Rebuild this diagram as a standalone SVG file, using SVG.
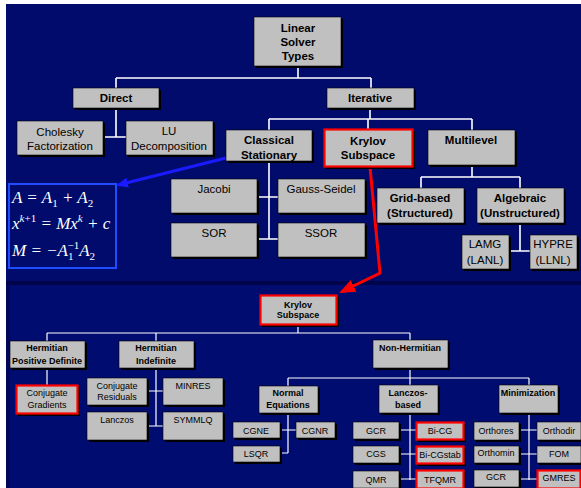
<svg xmlns="http://www.w3.org/2000/svg" width="581" height="488" viewBox="0 0 581 488">
<defs>
<style>
.sh{fill:#000}
.box{fill:#c0c0c0;stroke:#000;stroke-width:0.6}
.red{fill:#c0c0c0;stroke:#ff0000;stroke-width:2.2}
.t{font-family:"Liberation Sans",Arial,sans-serif;fill:#000;text-anchor:middle}
.b{font-weight:bold}
.L{font-size:11.5px}
.S{font-size:9px}
.con{stroke:#fff;stroke-width:1.6;fill:none}
.con2{stroke:#fff;stroke-width:1.2;fill:none}
.eq{font-family:"Liberation Serif","Times New Roman",serif;font-style:italic;font-size:17px;fill:#fff}
.n{font-style:normal;font-size:11px}
.i{font-style:italic;font-size:11px}
</style>
<marker id="ahRed" markerWidth="16" markerHeight="13" refX="14" refY="6.5" orient="auto" markerUnits="userSpaceOnUse">
<path d="M0,0 L16,6.5 L0,13 Z" fill="#ff0000"/>
</marker>
<marker id="ahBlue" markerWidth="12" markerHeight="10" refX="10" refY="5" orient="auto" markerUnits="userSpaceOnUse">
<path d="M0,0 L12,5 L0,10 Z" fill="#1a1aff"/>
</marker>
</defs>
<rect x="0" y="0" width="581" height="488" fill="#ffffff"/>
<rect x="6" y="4" width="575" height="277" fill="#000b6c"/>
<rect x="6" y="281" width="575" height="4" fill="#00044a"/>
<rect x="6" y="285" width="575" height="203" fill="#000c70"/>
<rect x="6" y="285" width="4" height="203" fill="#00075a"/>

<g id="connectors">
<path class="con" d="M298,66 V78 M116,78 H371 M116,78 V88 M371,78 V88"/>
<path class="con" d="M116,108 V137 M105,137 H126"/>
<path class="con" d="M370,108 V119 M269,119 H472 M269,119 V130 M368,119 V129 M472,119 V130"/>
<path class="con" d="M269,160 V239 M258,197 H278 M258,239 H278"/>
<path class="con" d="M472,165 V177 M421,177 H520 M421,177 V188 M520,177 V188"/>
<path class="con" d="M520,223 V251 M510,251 H530"/>
<path class="con2" d="M298,325 V333 M47,333 H410 M47,333 V341 M156,333 V341 M410,333 V340"/>
<path class="con2" d="M47,368 V385"/>
<path class="con2" d="M156,368 V426 M147,391 H163 M147,426 H163"/>
<path class="con2" d="M410,368 V378 M288,378 H529 M288,378 V386 M410,378 V385 M529,378 V385"/>
<path class="con2" d="M288,413 V453 M280,430 H296 M280,453 H288"/>
<path class="con2" d="M410,413 V480 M399,430 H416 M399,454 H416 M399,479 H416"/>
<path class="con2" d="M529,413 V480 M519,430 H537 M519,454 H537 M519,479 H537"/>
<path d="M226,158 L118,185" stroke="#1a1aff" stroke-width="3" fill="none" marker-end="url(#ahBlue)"/>
<path d="M370,167 L380,273 L341,292" stroke="#ff0000" stroke-width="3" fill="none" stroke-linejoin="miter" marker-end="url(#ahRed)"/>
</g>

<g id="linear-solver-types"><rect class="sh" x="256" y="19" width="87" height="49"/><rect class="box" x="254" y="17" width="87" height="49"/>
<text class="t b L" x="298" y="32">Linear</text><text class="t b L" x="298" y="46">Solver</text><text class="t b L" x="298" y="60">Types</text></g>

<g id="direct"><rect class="sh" x="75" y="90" width="86" height="20"/><rect class="box" x="73" y="88" width="86" height="20"/>
<text class="t b L" x="116" y="102">Direct</text></g>

<g id="iterative"><rect class="sh" x="329" y="90" width="87" height="20"/><rect class="box" x="327" y="88" width="87" height="20"/>
<text class="t b L" x="370" y="102">Iterative</text></g>

<g id="cholesky"><rect class="sh" x="19" y="123" width="86" height="34"/><rect class="box" x="17" y="121" width="86" height="34"/>
<text class="t L" x="60" y="136">Cholesky</text><text class="t L" x="60" y="150">Factorization</text></g>

<g id="lu"><rect class="sh" x="128" y="123" width="87" height="34"/><rect class="box" x="126" y="121" width="87" height="34"/>
<text class="t L" x="169" y="135">LU</text><text class="t L" x="169" y="150">Decomposition</text></g>

<g id="classical-stationary"><rect class="sh" x="228" y="132" width="86" height="31"/><rect class="box" x="226" y="130" width="86" height="31"/>
<text class="t b L" x="269" y="144">Classical</text><text class="t b L" x="269" y="159">Stationary</text></g>

<g id="krylov-top"><rect class="sh" x="326" y="131" width="89" height="38"/><rect class="red" x="324.5" y="129.5" width="88" height="37"/>
<text class="t b L" x="368" y="145">Krylov</text><text class="t b L" x="368" y="159">Subspace</text></g>

<g id="multilevel"><rect class="sh" x="430" y="132" width="87" height="35"/><rect class="box" x="428" y="130" width="87" height="35"/>
<text class="t b L" x="471" y="144">Multilevel</text></g>

<g id="jacobi"><rect class="sh" x="173" y="181" width="86" height="34"/><rect class="box" x="171" y="179" width="86" height="34"/>
<text class="t L" x="214" y="193">Jacobi</text></g>

<g id="gauss-seidel"><rect class="sh" x="280" y="181" width="87" height="34"/><rect class="box" x="278" y="179" width="87" height="34"/>
<text class="t L" x="321" y="193">Gauss-Seidel</text></g>

<g id="sor"><rect class="sh" x="173" y="225" width="86" height="34"/><rect class="box" x="171" y="223" width="86" height="34"/>
<text class="t L" x="214" y="237">SOR</text></g>

<g id="ssor"><rect class="sh" x="280" y="225" width="87" height="34"/><rect class="box" x="278" y="223" width="87" height="34"/>
<text class="t L" x="321" y="237">SSOR</text></g>

<g id="grid-based"><rect class="sh" x="379" y="190" width="87" height="35"/><rect class="box" x="377" y="188" width="87" height="35"/>
<text class="t b L" x="420" y="202">Grid-based</text><text class="t b L" x="420" y="217">(Structured)</text></g>

<g id="algebraic"><rect class="sh" x="479" y="190" width="87" height="35"/><rect class="box" x="477" y="188" width="87" height="35"/>
<text class="t b L" x="520" y="202">Algebraic</text><text class="t b L" x="520" y="217">(Unstructured)</text></g>

<g id="lamg"><rect class="sh" x="464" y="237" width="47" height="34"/><rect class="box" x="462" y="235" width="47" height="34"/>
<text class="t L" x="485" y="248">LAMG</text><text class="t L" x="485" y="264">(LANL)</text></g>

<g id="hypre"><rect class="sh" x="532" y="237" width="47" height="34"/><rect class="box" x="530" y="235" width="47" height="34"/>
<text class="t L" x="553" y="248">HYPRE</text><text class="t L" x="553" y="264">(LLNL)</text></g>

<g id="equations"><rect x="9" y="184" width="107" height="84" fill="#000b6c" stroke="#1f4dff" stroke-width="2"/>
<text class="eq" x="12" y="203">A = A<tspan class="n" dy="4">1</tspan><tspan dy="-4"> + A</tspan><tspan class="n" dy="4">2</tspan></text>
<text class="eq" x="12" y="229">x<tspan class="i" dy="-7">k</tspan><tspan class="n">+1</tspan><tspan dy="7"> = Mx</tspan><tspan class="i" dy="-7">k</tspan><tspan dy="7"> + c</tspan></text>
<text class="eq" x="12" y="256">M = −A<tspan class="n" dy="4">1</tspan><tspan class="n" dx="-6" dy="-11">−1</tspan><tspan dy="7">A</tspan><tspan class="n" dy="4">2</tspan></text></g>

<g id="krylov-bottom"><rect class="sh" x="262" y="297" width="77" height="30"/><rect class="red" x="260.5" y="295.5" width="76" height="29"/>
<text class="t b S" x="298" y="308">Krylov</text><text class="t b S" x="298" y="318">Subspace</text></g>

<g id="hermitian-pd"><rect class="sh" x="12" y="343" width="75" height="27"/><rect class="box" x="10" y="341" width="75" height="27"/>
<text class="t b S" x="47" y="351">Hermitian</text><text class="t b S" x="47" y="364">Positive Definite</text></g>

<g id="hermitian-indefinite"><rect class="sh" x="121" y="343" width="75" height="27"/><rect class="box" x="119" y="341" width="75" height="27"/>
<text class="t b S" x="156" y="351">Hermitian</text><text class="t b S" x="156" y="364">Indefinite</text></g>

<g id="non-hermitian"><rect class="sh" x="375" y="342" width="75" height="28"/><rect class="box" x="373" y="340" width="75" height="28"/>
<text class="t b S" x="410" y="351">Non-Hermitian</text></g>

<g id="conjugate-gradients"><rect class="sh" x="18" y="387" width="62" height="29"/><rect class="red" x="16.5" y="385.5" width="61" height="28"/>
<text class="t S" x="47" y="396">Conjugate</text><text class="t S" x="47" y="408">Gradients</text></g>

<g id="conjugate-residuals"><rect class="sh" x="89" y="380" width="60" height="27"/><rect class="box" x="87" y="378" width="60" height="27"/>
<text class="t S" x="117" y="389">Conjugate</text><text class="t S" x="117" y="400">Residuals</text></g>

<g id="minres"><rect class="sh" x="165" y="380" width="60" height="27"/><rect class="box" x="163" y="378" width="60" height="27"/>
<text class="t S" x="193" y="389">MINRES</text></g>

<g id="lanczos"><rect class="sh" x="89" y="414" width="60" height="28"/><rect class="box" x="87" y="412" width="60" height="28"/>
<text class="t S" x="117" y="423">Lanczos</text></g>

<g id="symmlq"><rect class="sh" x="165" y="414" width="60" height="28"/><rect class="box" x="163" y="412" width="60" height="28"/>
<text class="t S" x="193" y="423">SYMMLQ</text></g>

<g id="normal-equations"><rect class="sh" x="261" y="388" width="59" height="27"/><rect class="box" x="259" y="386" width="59" height="27"/>
<text class="t b S" x="288" y="396">Normal</text><text class="t b S" x="288" y="408">Equations</text></g>

<g id="lanczos-based"><rect class="sh" x="381" y="387" width="59" height="28"/><rect class="box" x="379" y="385" width="59" height="28"/>
<text class="t b S" x="408" y="396">Lanczos-</text><text class="t b S" x="408" y="408">based</text></g>

<g id="minimization"><rect class="sh" x="501" y="387" width="59" height="28"/><rect class="box" x="499" y="385" width="59" height="28"/>
<text class="t b S" x="528" y="396">Minimization</text></g>

<g id="cgne"><rect class="sh" x="235" y="424" width="47" height="16"/><rect class="box" x="233" y="422" width="47" height="16"/>
<text class="t S" x="256" y="434">CGNE</text></g>

<g id="cgnr"><rect class="sh" x="298" y="424" width="39" height="16"/><rect class="box" x="296" y="422" width="39" height="16"/>
<text class="t S" x="315" y="434">CGNR</text></g>

<g id="lsqr"><rect class="sh" x="235" y="448" width="47" height="16"/><rect class="box" x="233" y="446" width="47" height="16"/>
<text class="t S" x="256" y="457">LSQR</text></g>

<g id="gcr1"><rect class="sh" x="355" y="424" width="46" height="17"/><rect class="box" x="353" y="422" width="46" height="17"/>
<text class="t S" x="376" y="434">GCR</text></g>

<g id="bi-cg"><rect class="sh" x="418" y="424" width="48" height="18"/><rect class="red" x="416.5" y="422.5" width="47" height="17"/>
<text class="t S" x="440" y="434">Bi-CG</text></g>

<g id="cgs"><rect class="sh" x="355" y="448" width="46" height="17"/><rect class="box" x="353" y="446" width="46" height="17"/>
<text class="t S" x="376" y="457">CGS</text></g>

<g id="bi-cgstab"><rect class="sh" x="418" y="448" width="48" height="18"/><rect class="red" x="416.5" y="446.5" width="47" height="17"/>
<text class="t S" x="440" y="458">Bi-CGstab</text></g>

<g id="qmr"><rect class="sh" x="355" y="473" width="46" height="17"/><rect class="box" x="353" y="471" width="46" height="17"/>
<text class="t S" x="376" y="483">QMR</text></g>

<g id="tfqmr"><rect class="sh" x="418" y="472" width="48" height="18"/><rect class="red" x="416.5" y="470.5" width="47" height="18"/>
<text class="t S" x="440" y="483">TFQMR</text></g>

<g id="orthores"><rect class="sh" x="476" y="424" width="45" height="18"/><rect class="box" x="474" y="422" width="45" height="18"/>
<text class="t S" x="496" y="434">Orthores</text></g>

<g id="orthodir"><rect class="sh" x="539" y="424" width="44" height="18"/><rect class="box" x="537" y="422" width="44" height="18"/>
<text class="t S" x="559" y="434">Orthodir</text></g>

<g id="orthomin"><rect class="sh" x="476" y="448" width="45" height="17"/><rect class="box" x="474" y="446" width="45" height="17"/>
<text class="t S" x="496" y="456">Orthomin</text></g>

<g id="fom"><rect class="sh" x="539" y="448" width="44" height="17"/><rect class="box" x="537" y="446" width="44" height="17"/>
<text class="t S" x="559" y="457">FOM</text></g>

<g id="gcr2"><rect class="sh" x="476" y="472" width="45" height="17"/><rect class="box" x="474" y="470" width="45" height="17"/>
<text class="t S" x="496" y="480">GCR</text></g>

<g id="gmres"><rect class="sh" x="539" y="472" width="44" height="18"/><rect class="red" x="537.5" y="470.5" width="43" height="18"/>
<text class="t S" x="559" y="481">GMRES</text></g>
</svg>
